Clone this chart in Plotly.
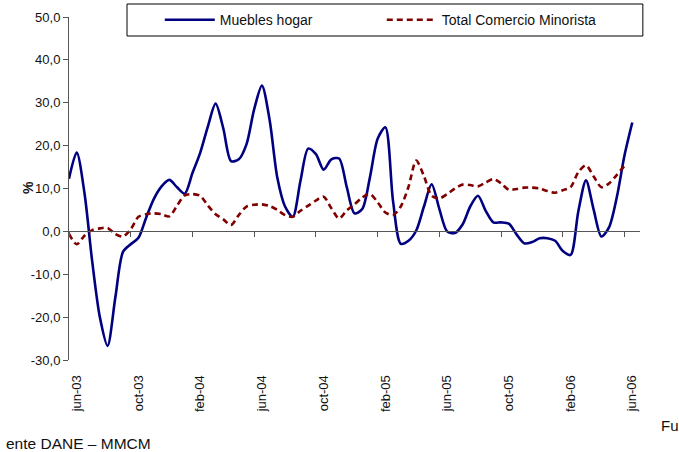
import plotly.graph_objects as go

# Half-month observation index: 0 = jun-03, 36 = jun-06 (step 0.5 month)
periods = [-0.5, 0.0, 0.5, 1.0, 1.5, 2.0, 2.5, 3.0, 3.5, 4.0, 4.5, 5.0, 5.5, 6.0, 6.5, 7.0,
           7.5, 8.0, 8.5, 9.0, 9.5, 10.0, 10.5, 11.0, 11.5, 12.0, 12.5, 13.0, 13.5, 14.0,
           14.5, 15.0, 15.5, 16.0, 16.5, 17.0, 17.5, 18.0, 18.5, 19.0, 19.5, 20.0, 20.5,
           21.0, 21.5, 22.0, 22.5, 23.0, 23.5, 24.0, 24.5, 25.0, 25.5, 26.0, 26.5, 27.0,
           27.5, 28.0, 28.5, 29.0, 29.5, 30.0, 30.5, 31.0, 31.5, 32.0, 32.5, 33.0, 33.5,
           34.0, 34.5, 35.0, 35.5, 36.0]

muebles_hogar = [12.3, 18.4, 9.0, -6.9, -20.0, -26.7, -15.5, -4.8, -3.0, -1.5, 3.2, 7.6,
                 10.5, 12.0, 10.3, 8.8, 13.6, 18.3, 24.5, 29.8, 24.0, 16.4, 16.8, 20.3,
                 28.5, 34.0, 26.0, 12.5, 5.8, 3.4, 11.8, 19.3, 18.0, 14.4, 16.8, 17.0,
                 10.3, 4.2, 5.2, 12.6, 21.6, 24.3, 7.0, -2.9, -2.2, 0.2, 5.8, 11.0, 5.2,
                 0.0, -0.4, 1.6, 5.8, 8.3, 4.8, 2.1, 2.1, 1.8, -0.7, -2.8, -2.5, -1.6,
                 -1.6, -2.2, -4.6, -5.5, 4.6, 11.9, 5.0, -1.2, 1.0, 8.0, 17.8, 25.4]

total_comercio = [-0.6, -3.0, -1.0, 0.3, 0.7, 0.8, -0.6, -1.2, 0.5, 3.4, 4.0, 4.2, 4.0,
                  3.5, 6.0, 8.4, 8.7, 8.3, 6.0, 4.0, 2.8, 1.5, 3.8, 5.8, 6.2, 6.3, 5.9,
                  5.0, 3.8, 3.4, 4.8, 6.0, 7.2, 8.1, 5.4, 3.0, 4.9, 6.3, 7.9, 8.7, 6.8,
                  4.4, 3.8, 5.8, 10.4, 16.5, 12.9, 8.3, 7.7, 8.7, 10.0, 10.9, 10.8, 10.5,
                  11.4, 12.2, 11.2, 9.7, 9.9, 10.2, 10.2, 10.0, 9.4, 9.0, 9.6, 10.3, 13.8,
                  15.4, 12.8, 10.3, 11.2, 13.2, 15.3, None]

x_label_pos = [0, 4, 8, 12, 16, 20, 24, 28, 32, 36]
x_labels = ["jun-03", "oct-03", "feb-04", "jun-04", "oct-04",
            "feb-05", "jun-05", "oct-05", "feb-06", "jun-06"]
x_tick_marks = [-0.5, 3.5, 7.5, 11.5, 15.5, 19.5, 23.5, 27.5, 31.5, 35.5]

y_ticks = [-30, -20, -10, 0, 10, 20, 30, 40, 50]
y_tick_text = ["-30,0", "-20,0", "-10,0", "0,0", "10,0", "20,0", "30,0", "40,0", "50,0"]

AX = "#555555"
FONT = "Arial, Liberation Sans, sans-serif"

fig = go.Figure()
fig.add_trace(go.Scatter(
    x=periods, y=muebles_hogar, mode="lines", name="Muebles hogar",
    line=dict(color="#000080", width=2.6, shape="spline", smoothing=0.8),
))
fig.add_trace(go.Scatter(
    x=periods, y=total_comercio, mode="lines", name="Total Comercio Minorista",
    line=dict(color="#800000", width=2.6, dash="6px,4px", shape="spline", smoothing=0.8),
))
# helper (invisible) trace to bind the zero-line axis carrying the tick marks
fig.add_trace(go.Scatter(x=[None], y=[None], xaxis="x2", showlegend=False,
                         hoverinfo="skip"))

fig.update_layout(
    width=679, height=452,
    margin=dict(l=69, r=39, t=17, b=92, autoexpand=False),
    paper_bgcolor="white", plot_bgcolor="white",
    font=dict(family=FONT, size=13, color="#111111"),
    showlegend=True,
    legend=dict(
        orientation="h", x=0.159, xanchor="left", y=0.991, yanchor="middle",
        font=dict(size=14, color="#111111"), bgcolor="rgba(0,0,0,0)",
        itemwidth=50, entrywidth=157, entrywidthmode="pixels",
        tracegroupgap=0, itemclick=False,
    ),
    xaxis=dict(
        range=[-0.5, 36.5], tickmode="array", tickvals=x_label_pos, ticktext=x_labels,
        tickangle=-90, ticks="outside", ticklen=9, tickcolor="rgba(0,0,0,0)",
        showline=False, zeroline=False, showgrid=False, automargin=False,
        tickfont=dict(size=13, color="#111111"),
    ),
    xaxis2=dict(
        range=[-0.5, 36.5], overlaying="x", anchor="free", position=0.375,
        tickmode="array", tickvals=x_tick_marks, ticks="outside", ticklen=5,
        tickcolor=AX, showticklabels=False, showline=True, linecolor=AX, linewidth=1,
        zeroline=False, showgrid=False, automargin=False,
    ),
    yaxis=dict(
        range=[-30, 50], tickmode="array", tickvals=y_ticks, ticktext=y_tick_text,
        ticks="outside", ticklen=5, tickcolor=AX, showline=True, linecolor=AX,
        linewidth=1, zeroline=False, showgrid=False, automargin=False,
        tickfont=dict(size=13, color="#111111"),
    ),
    shapes=[dict(type="rect", xref="paper", yref="paper",
                 x0=0.1016, x1=1.005, y0=0.9446, y1=1.0379,
                 line=dict(color="#000000", width=1), fillcolor="white", layer="below")],
    annotations=[
        dict(text="<b>%</b>", xref="paper", yref="paper", x=-0.072, y=0.504,
             xanchor="center", yanchor="middle",
             textangle=-90, showarrow=False, font=dict(size=14, color="#111111")),
        dict(text="Fu", xref="paper", yref="paper", x=1.033, y=-0.192,
             xanchor="left", yanchor="middle", showarrow=False,
             font=dict(size=15, color="#111111")),
        dict(text="ente DANE – MMCM", xref="paper", yref="paper", x=-0.1138, y=-0.242,
             xanchor="left", yanchor="middle", showarrow=False,
             font=dict(size=15.5, color="#111111")),
    ],
)

fig.write_html(
    "out.html",
    config={"displayModeBar": False},
    post_script="document.body.style.margin='0';document.body.style.overflow='hidden';",
)
